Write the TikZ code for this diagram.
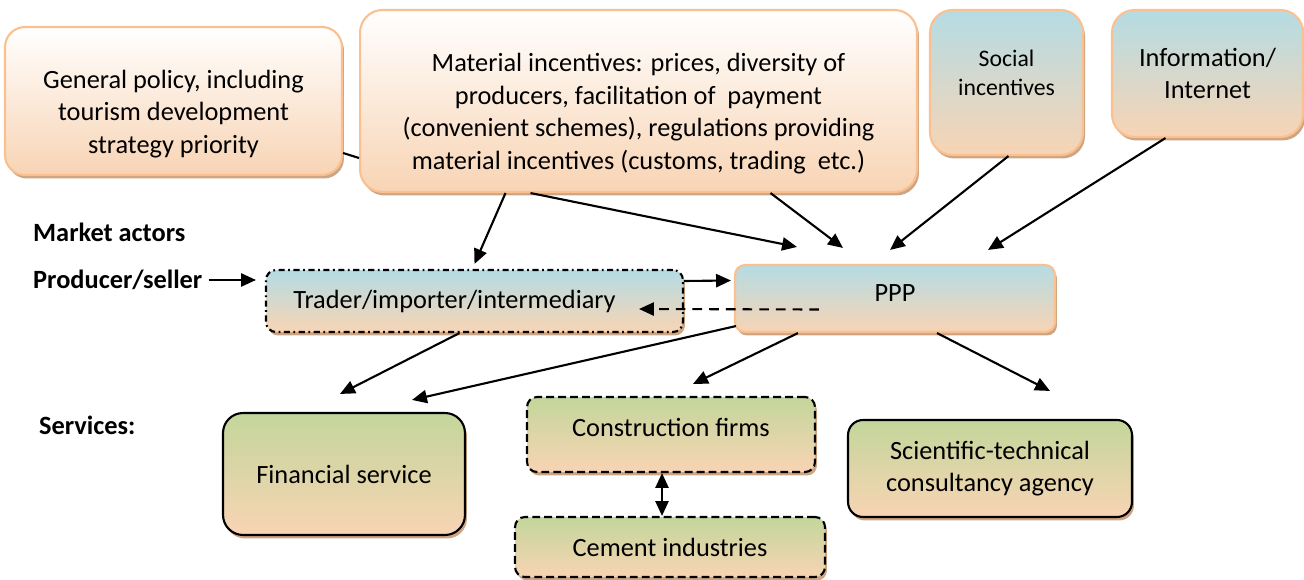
\documentclass[tikz,border=0pt]{standalone}
\usepackage{fontspec}
\setmainfont{Carlito}
\usetikzlibrary{arrows.meta,positioning,shadows}

\definecolor{peach}{RGB}{248,212,180}
\definecolor{skyblue}{RGB}{180,220,228}
\definecolor{leaf}{RGB}{195,214,155}
\definecolor{edgeorange}{RGB}{250,192,143}
\definecolor{shadowbrown}{RGB}{205,165,130}

\tikzset{
  box/.style={rounded corners=0.2cm, align=center, inner sep=2pt,
    font=\fontsize{15}{18.5}\selectfont,
    drop shadow={shadow xshift=0.04cm, shadow yshift=-0.07cm, fill=shadowbrown, opacity=1}},
  policy/.style={box, draw=edgeorange, line width=1.2pt, top color=white, bottom color=peach},
  actor/.style={box, top color=skyblue, bottom color=peach},
  service/.style={box, top color=leaf, bottom color=peach},
  dashdot/.style={draw=black, line width=1.2pt, dash pattern=on 3.5pt off 2pt on 1pt off 2pt},
  dashbox/.style={draw=black, line width=1.2pt, dash pattern=on 4.5pt off 2.3pt},
  heading/.style={anchor=west, font=\fontsize{15}{18.5}\selectfont\bfseries},
  arr/.style={-{Triangle[length=8.5pt,width=7.5pt]}, line width=1.2pt},
  twoway/.style={{Triangle[length=8.5pt,width=7.5pt]}-{Triangle[length=8.5pt,width=7.5pt]}, line width=1.2pt},
}

\begin{document}
\begin{tikzpicture}[x=0.02cm, y=-0.02cm]
  \useasboundingbox (0,0) rectangle (1304,580);

  % incentives
  \node[policy, rounded corners=0.4cm, minimum width=6.74cm, minimum height=2.96cm] (gen) at (173.5,101)
    {\rule{0pt}{25pt}General policy, including\\tourism development\\strategy priority};
  \node[policy, rounded corners=0.45cm, minimum width=11.14cm, minimum height=3.64cm] (mat) at (638.5,101)
    {\rule{0pt}{25pt}Material incentives: prices, diversity of\\producers, facilitation of\ \ payment\\(convenient schemes), regulations providing\\material incentives (customs, trading\ \ etc.)};
  \node[actor, draw=edgeorange, line width=1.2pt, rounded corners=0.45cm, minimum width=3.06cm, minimum height=2.9cm,
    font=\fontsize{13.5}{16.5}\selectfont] (soc) at (1006.5,82.5) {Social\\incentives\rule[-0.4cm]{0pt}{0.4cm}};
  \node[actor, draw=edgeorange, line width=1.2pt, rounded corners=0.45cm, minimum width=3.82cm, minimum height=2.54cm] (inf) at (1207.5,73.5)
    {Information/\\Internet};

  % market actors
  \node[heading] (mact) at (27,232) {Market actors};
  \node[heading] (prod) at (27,280) {Producer/seller};
  \node[actor, dashdot, minimum width=8.34cm, minimum height=1.24cm] (trader) at (474.5,301)
    {Trader/importer/intermediary\hspace{0.8cm}};
  \node[actor, draw=edgeorange, line width=1.2pt, minimum width=6.4cm, minimum height=1.34cm] (ppp) at (895,298.5)
    {PPP\rule[-0.2cm]{0pt}{0.2cm}};

  % services
  \node[heading] (serv) at (33,425) {Services:};
  \node[service, draw=black, line width=1.2pt, rounded corners=0.4cm, minimum width=4.84cm, minimum height=2.44cm] (fin) at (344,474)
    {Financial service};
  \node[service, dashbox, minimum width=5.76cm, minimum height=1.5cm] (con) at (671,434.5)
    {Construction firms\rule[-0.3cm]{0pt}{0.3cm}};
  \node[service, dashbox, minimum width=6.2cm, minimum height=1.2cm] (cem) at (670,547)
    {Cement industries};
  \node[service, draw=black, line width=1.2pt, rounded corners=0.3cm, minimum width=5.68cm, minimum height=1.94cm] (sci) at (990,468.5)
    {Scientific-technical\\consultancy agency};

  % connectors
  \draw[line width=1.2pt] ([shift={(0,52)}]gen.east) -- ([shift={(0,57)}]mat.west);
  \draw[arr] ([shift={(-133,0)}]mat.south) -- ([shift={(0,-5)}]trader.north);
  \draw[arr] ([shift={(-108,0)}]mat.south) -- ([shift={(-98,-17)}]ppp.north);
  \draw[arr] ([shift={(132,0)}]mat.south) -- ([shift={(-52,-16)}]ppp.north);
  \draw[arr] ([shift={(2,0)}]soc.south) -- ([shift={(-5,-14)}]ppp.north);
  \draw[arr] ([shift={(-42,0)}]inf.south) -- ([shift={(93,-14)}]ppp.north);
  \draw[arr] (prod.east) -- ([shift={(-9,0)}]trader.west |- prod.east);
  \draw[arr] ([shift={(0,-20)}]trader.east) -- ([shift={(-3,-18)}]ppp.west);
  \draw[arr, dash pattern=on 5.5pt off 4pt] ([shift={(85,11)}]ppp.west) -- ([shift={(-45,8)}]trader.east);
  \draw[arr] ([shift={(-15,0)}]trader.south) -- ([shift={(-4,-18)}]fin.north);
  \draw[arr] ([shift={(2,-7)}]ppp.south west) -- ([shift={(68,-12)}]fin.north);
  \draw[arr] ([shift={(-97,0)}]ppp.south) -- ([shift={(22,-12)}]con.north);
  \draw[arr] ([shift={(42,0)}]ppp.south) -- ([shift={(60,-28)}]sci.north);
  \draw[twoway] ([shift={(-9,0)}]con.south) -- ([shift={(-8,0)}]cem.north);
\end{tikzpicture}
\end{document}
